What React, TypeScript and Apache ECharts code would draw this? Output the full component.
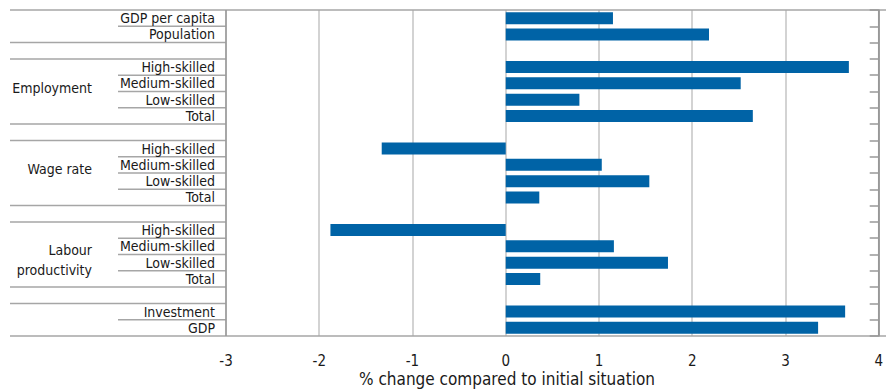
import React, { useEffect, useRef } from "react";
import * as echarts from "echarts";

const rowLabels: string[] = [
  "GDP per capita", "Population", "",
  "High-skilled", "Medium-skilled", "Low-skilled", "Total", "",
  "High-skilled", "Medium-skilled", "Low-skilled", "Total", "",
  "High-skilled", "Medium-skilled", "Low-skilled", "Total", "",
  "Investment", "GDP",
];
const values: (number | null)[] = [
  1.15, 2.18, null,
  3.68, 2.52, 0.79, 2.65, null,
  -1.33, 1.03, 1.54, 0.36, null,
  -1.88, 1.16, 1.74, 0.37, null,
  3.64, 3.35,
];
const groupLabels: string[] = ["Employment", "Wage rate", "Labour\nproductivity"];
const groupFirstRow: number[] = [3, 8, 13];
const groupLastRow: number[] = [6, 11, 16];
// boundaries (after row index) where the separator spans the whole label column
const fullLinesAfter: number[] = [1, 2, 6, 7, 11, 12, 16, 17];
const xTicks = { min: -3, max: 4, interval: 1 };
const xTitle = "% change compared to initial situation";

const FONT = "'DejaVu Sans Condensed', 'Noto Sans', sans-serif";
const TEXT = "#1a1a1a";
const LINE = "#a6a6a6";

export default function App() {
  const ref = useRef<HTMLDivElement>(null);
  useEffect(() => {
    if (!ref.current) return;
    const chart = echarts.init(ref.current, undefined, { renderer: "svg" });
    const cats = rowLabels.map((l, i) => `${i}|${l}`);
    chart.setOption({
      animation: false,
      title: {
        text: xTitle,
        left: 507,
        top: 370,
        textAlign: "center",
        padding: 0,
        textStyle: { color: TEXT, fontFamily: FONT, fontSize: 17, fontWeight: "normal" },
      },
      grid: { left: 226, right: 2, top: 10, bottom: 53 },
      xAxis: {
        type: "value",
        min: xTicks.min,
        max: xTicks.max,
        interval: xTicks.interval,
        axisLine: { show: false },
        axisTick: { show: false },
        splitLine: { show: true, lineStyle: { color: "#c4c4c4", width: 1.5 } },
        axisLabel: { color: TEXT, fontFamily: FONT, fontSize: 15, margin: 17 },
      },
      yAxis: [
        {
          type: "category",
          data: cats,
          inverse: true,
          axisLine: { show: false },
          axisTick: { show: false },
          axisLabel: {
            color: TEXT,
            fontFamily: FONT,
            fontSize: 14,
            margin: 11,
            interval: 0,
            formatter: (v: string) => v.slice(v.indexOf("|") + 1),
          },
        },
        {
          type: "category",
          data: cats,
          inverse: true,
          position: "right",
          axisLine: { show: true, onZero: true, lineStyle: { color: "#999", width: 1.5 } },
          axisTick: { show: true, inside: true, length: 9, lineStyle: { color: "#999", width: 1.5 } },
          axisLabel: { show: false },
        },
      ],
      series: [
        {
          type: "bar",
          data: values,
          barWidth: 12,
          itemStyle: { color: "#0063a6" },
        },
      ],
    });

    const c0 = chart.convertToPixel({ yAxisIndex: 0 }, cats[0]) as number;
    const c1 = chart.convertToPixel({ yAxisIndex: 0 }, cats[1]) as number;
    const rowH = c1 - c0;
    const top = c0 - rowH / 2;
    const bottom = top + rowH * rowLabels.length;
    const xLeft = chart.convertToPixel({ xAxisIndex: 0 }, xTicks.min) as number;
    const xRight = chart.convertToPixel({ xAxisIndex: 0 }, xTicks.max) as number;
    const graphics: any[] = [];
    const ls = { stroke: LINE, lineWidth: 1.5 };
    graphics.push({ type: "line", shape: { x1: 10, y1: top, x2: 886, y2: top }, style: ls });
    graphics.push({ type: "line", shape: { x1: 10, y1: bottom, x2: 886, y2: bottom }, style: ls });
    for (let i = 0; i < rowLabels.length - 1; i++) {
      const y = top + rowH * (i + 1);
      const x1 = fullLinesAfter.includes(i) ? 10 : 118;
      graphics.push({ type: "line", shape: { x1, y1: y, x2: xLeft, y2: y }, style: ls });
    }
    graphics.push({ type: "line", shape: { x1: xLeft, y1: top, x2: xLeft, y2: bottom }, style: { stroke: "#999", lineWidth: 1.5 } });
    graphics.push({ type: "line", shape: { x1: xRight, y1: top, x2: xRight, y2: bottom }, style: { stroke: "#999", lineWidth: 1.5 } });
    groupLabels.forEach((g, k) => {
      const yc = (top + rowH * groupFirstRow[k] + top + rowH * (groupLastRow[k] + 1)) / 2;
      const twoLine = g.includes("\n");
      graphics.push({
        type: "text",
        x: 92,
        y: yc + (twoLine ? 5 : -4),
        style: {
          text: g,
          fill: TEXT,
          font: `14px ${FONT}`,
          align: "right",
          verticalAlign: "middle",
          lineHeight: 20,
        },
      });
    });
    chart.setOption({ graphic: graphics });
    return () => chart.dispose();
  }, []);
  return (
    <div
      ref={ref}
      style={{ position: "fixed", left: 0, top: 0, width: 886, height: 389, background: "#fff" }}
    />
  );
}
